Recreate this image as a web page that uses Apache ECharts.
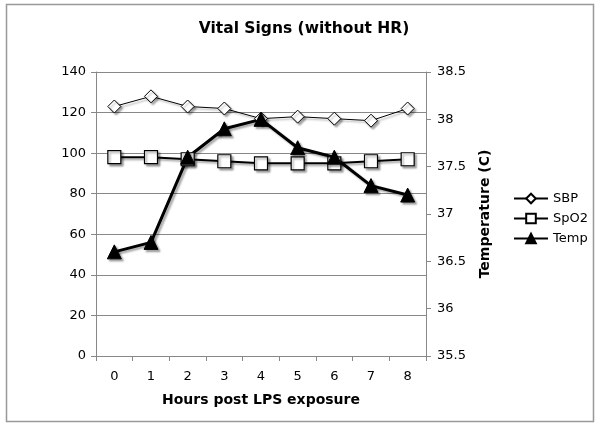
<!DOCTYPE html>
<html><head><meta charset="utf-8">
<script src="https://cdn.jsdelivr.net/npm/echarts@6/dist/echarts.min.js"></script>
<style>html,body{margin:0;padding:0;background:#fff}#c{width:600px;height:427px}</style>
</head><body><div id="c"></div>
<script>
var hours = ['0','1','2','3','4','5','6','7','8'];
var sbp = [123, 128, 123, 122, 117, 118, 117, 116, 122];
var spo2 = [98, 98, 97, 96, 95, 95, 95, 96, 97];
var temp = [36.6, 36.7, 37.6, 37.9, 38.0, 37.7, 37.6, 37.3, 37.2];
var leftTicks = {min: 0, max: 140, interval: 20};
var rightTicks = {min: 35.5, max: 38.5, interval: 0.5};

var F = 'DejaVu Sans, Verdana, sans-serif';
var shadow = {shadowColor: 'rgba(0,0,0,0.35)', shadowBlur: 2, shadowOffsetX: 2, shadowOffsetY: 2};
var chart = echarts.init(document.getElementById('c'), null, {renderer: 'canvas'});
chart.setOption({
  animation: false,
  backgroundColor: '#fff',
  graphic: [{type: 'rect', shape: {x: 6.5, y: 4.5, width: 587, height: 417}, style: {fill: 'none', stroke: '#999', lineWidth: 1.5}, silent: true}],
  title: {text: 'Vital Signs (without HR)', left: 299, top: 16, textAlign: 'center',
    textStyle: {fontFamily: F, fontSize: 15.5, fontWeight: 'bold', color: '#000'}},
  grid: {left: 96, right: 174, top: 72, bottom: 71, containLabel: false},
  legend: {
    orient: 'vertical', left: 508, top: 187, itemWidth: 34, itemHeight: 12, itemGap: 7,
    textStyle: {fontFamily: F, fontSize: 13, color: '#000'},
    data: ['SBP', 'SpO2', 'Temp']
  },
  xAxis: {
    type: 'category', data: hours, boundaryGap: true,
    name: 'Hours post LPS exposure', nameLocation: 'middle', nameGap: 37,
    nameTextStyle: {fontFamily: F, fontSize: 14, fontWeight: 'bold', color: '#000'},
    axisLine: {lineStyle: {color: '#888', width: 1}},
    axisTick: {show: true, length: 5, lineStyle: {color: '#888'}},
    axisLabel: {fontFamily: F, fontSize: 13, color: '#000', margin: 14}
  },
  yAxis: [{
    type: 'value', min: leftTicks.min, max: leftTicks.max, interval: leftTicks.interval,
    axisLine: {show: true, lineStyle: {color: '#888'}},
    axisTick: {show: true, length: 5, lineStyle: {color: '#888'}},
    axisLabel: {fontFamily: F, fontSize: 13, color: '#000', margin: 10},
    splitLine: {show: true, lineStyle: {color: '#888', width: 1}}
  }, {
    type: 'value', position: 'right', min: rightTicks.min, max: rightTicks.max, interval: rightTicks.interval,
    name: 'Temperature (C)', nameLocation: 'middle', nameGap: 52, nameRotate: 90,
    nameTextStyle: {fontFamily: F, fontSize: 14, fontWeight: 'bold', color: '#000'},
    axisLine: {show: true, lineStyle: {color: '#888'}},
    axisTick: {show: true, length: 5, lineStyle: {color: '#888'}},
    axisLabel: {fontFamily: F, fontSize: 13, color: '#000', margin: 11},
    splitLine: {show: false}
  }],
  series: [{
    name: 'SBP', type: 'line', data: sbp, yAxisIndex: 0,
    symbol: 'diamond', symbolSize: 13,
    lineStyle: Object.assign({color: '#000', width: 1}, shadow),
    itemStyle: Object.assign({color: '#fff', borderColor: '#000', borderWidth: 1}, shadow)
  }, {
    name: 'SpO2', type: 'line', data: spo2, yAxisIndex: 0,
    symbol: 'rect', symbolSize: 13,
    lineStyle: Object.assign({color: '#000', width: 2}, shadow),
    itemStyle: Object.assign({color: '#fff', borderColor: '#000', borderWidth: 1.2}, shadow)
  }, {
    name: 'Temp', type: 'line', data: temp, yAxisIndex: 1,
    symbol: 'triangle', symbolSize: 14,
    lineStyle: Object.assign({color: '#000', width: 3}, shadow),
    itemStyle: Object.assign({color: '#000', borderColor: '#000', borderWidth: 1}, shadow)
  }]
});
</script></body></html>
